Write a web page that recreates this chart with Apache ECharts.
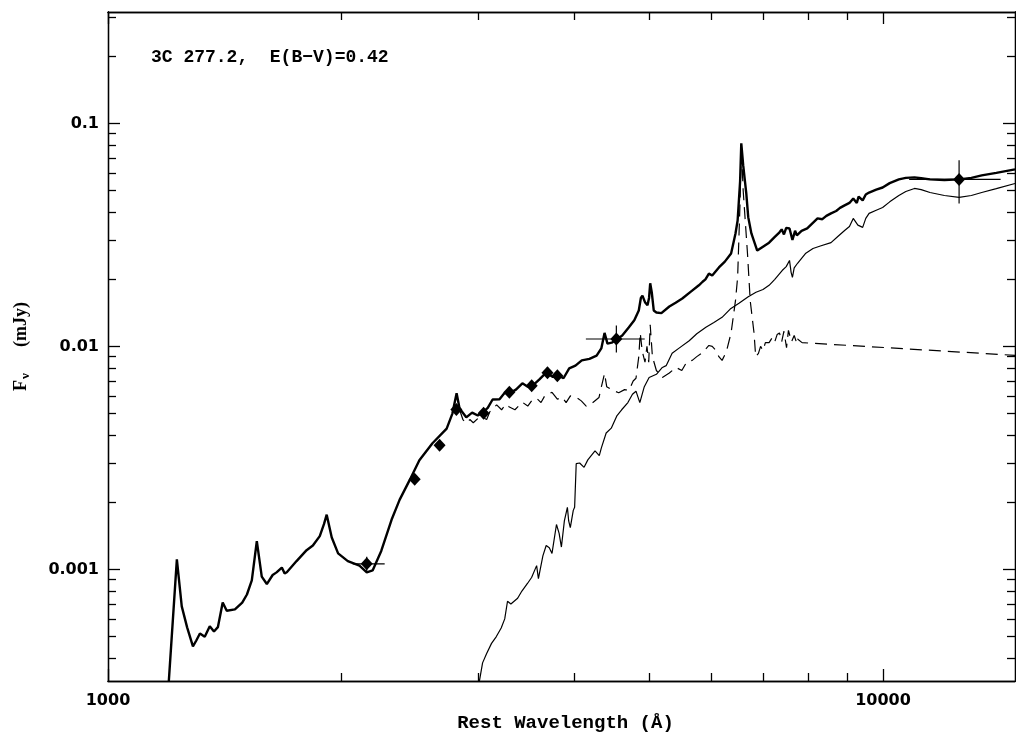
<!DOCTYPE html>
<html>
<head>
<meta charset="utf-8">
<script src="https://cdn.jsdelivr.net/npm/echarts@6/dist/echarts.min.js"></script>
<style>
  html, body { margin: 0; padding: 0; background: #fff; }
  #chart { width: 1016px; height: 738px; }
</style>
</head>
<body>
<div id="chart"></div>
<script>
// total model / observed spectrum (thick line)
var totalWave = [1198, 1227, 1245, 1265, 1287, 1300, 1314, 1333, 1353, 1370, 1386, 1406, 1423, 1458, 1490, 1511, 1533, 1556, 1579, 1603,
    1631, 1650, 1676, 1690, 1701, 1751, 1804, 1838, 1876, 1900, 1915, 1944, 1981, 2039, 2111, 2157, 2195, 2252, 2322, 2378,
    2451, 2522, 2622, 2735, 2782, 2817, 2842, 2899, 2950, 3000, 3043, 3090, 3135, 3200, 3250, 3295, 3360, 3425, 3480, 3531,
    3600, 3676, 3750, 3823, 3870, 3936, 4010, 4086, 4180, 4270, 4330, 4372, 4410, 4466, 4540, 4608, 4700, 4776, 4840, 4870,
    4893, 4930, 4967, 4990, 5007, 5030, 5060, 5100, 5176, 5300, 5400, 5508, 5650, 5786, 5850, 5900, 5961, 6020, 6141, 6250,
    6367, 6450, 6492, 6540, 6563, 6600, 6661, 6700, 6763, 6881, 7000, 7128, 7250, 7352, 7400, 7450, 7500, 7574, 7640, 7700,
    7741, 7850, 7983, 8100, 8232, 8350, 8450, 8568, 8700, 8800, 8921, 9050, 9153, 9250, 9300, 9413, 9500, 9594, 9800, 9988,
    10200, 10481, 10700, 10979, 11200, 11497, 12000, 12535, 13000, 13407, 14000, 14800];
var totalFlux = [0.000315, 0.00111, 0.000683, 0.00055, 0.000452, 0.00048, 0.000516, 0.000499, 0.000556, 0.000527, 0.000551, 0.000711, 0.000653, 0.000662, 0.00071, 0.000772, 0.000893, 0.00134, 0.000929, 0.00086,
    0.000944, 0.00097, 0.00102, 0.00096, 0.000971, 0.00109, 0.00122, 0.00128, 0.00141, 0.0016, 0.00176, 0.00139, 0.00118, 0.00109, 0.00104, 0.000971, 0.00099, 0.00121, 0.00167, 0.00205,
    0.00252, 0.00309, 0.00368, 0.00428, 0.005, 0.00616, 0.00527, 0.00481, 0.00505, 0.0049, 0.00505, 0.0053, 0.00578, 0.0058, 0.0062, 0.00616, 0.0064, 0.00683, 0.0066, 0.00667,
    0.0071, 0.00763, 0.0073, 0.00738, 0.0072, 0.00797, 0.0082, 0.00866, 0.0088, 0.00909, 0.0098, 0.0115, 0.0103, 0.0104, 0.0108, 0.0112, 0.0122, 0.0131, 0.0145, 0.0165,
    0.0169, 0.0158, 0.0153, 0.0165, 0.0192, 0.0175, 0.0145, 0.0142, 0.0141, 0.0151, 0.0157, 0.0164, 0.0176, 0.0188, 0.0195, 0.02, 0.0212, 0.0208, 0.0226, 0.024,
    0.0261, 0.032, 0.0367, 0.055, 0.0814, 0.065, 0.0486, 0.038, 0.0321, 0.0269, 0.028, 0.0292, 0.031, 0.0325, 0.0335, 0.0318, 0.034, 0.0338, 0.03, 0.033,
    0.0315, 0.033, 0.0338, 0.0355, 0.0375, 0.0372, 0.0385, 0.0395, 0.0405, 0.0418, 0.0429, 0.044, 0.0461, 0.044, 0.047, 0.0452, 0.048, 0.049, 0.0505, 0.0516,
    0.054, 0.0561, 0.057, 0.0573, 0.0568, 0.0561, 0.0558, 0.0561, 0.057, 0.0585, 0.06, 0.0622];

// host galaxy (thin line)
var hostWave = [3014, 3043, 3080, 3125, 3170, 3216, 3250, 3277, 3310, 3377, 3420, 3477, 3520, 3573, 3592, 3640, 3676, 3710, 3740, 3790,
    3820, 3846, 3880, 3915, 3930, 3949, 3984, 4000, 4019, 4060, 4114, 4160, 4202, 4250, 4304, 4330, 4393, 4460, 4537, 4600,
    4686, 4750, 4800, 4855, 4880, 4920, 4991, 5100, 5191, 5250, 5344, 5450, 5622, 5750, 5908, 6050, 6199, 6350, 6518, 6700,
    6856, 7000, 7128, 7250, 7410, 7500, 7574, 7610, 7640, 7680, 7757, 7950, 8121, 8300, 8568, 8750, 8921, 9050, 9153, 9280,
    9413, 9500, 9594, 9800, 9988, 10200, 10481, 10700, 10979, 11200, 11497, 12000, 12535, 13000, 13407, 14000, 14800];
var hostFlux = [0.000315, 0.000381, 0.00042, 0.000466, 0.0005, 0.000546, 0.0006, 0.00072, 0.0007, 0.000743, 0.0008, 0.000865, 0.00092, 0.00104, 0.00091, 0.00115, 0.00128, 0.00125, 0.00118, 0.00159,
    0.00145, 0.00126, 0.00165, 0.0019, 0.00165, 0.00154, 0.00184, 0.0019, 0.00298, 0.003, 0.00287, 0.0031, 0.00324, 0.0034, 0.00324, 0.0035, 0.00409, 0.0043, 0.0049, 0.0052,
    0.0056, 0.0061, 0.0063, 0.0056, 0.0057, 0.0066, 0.00726, 0.0075, 0.00805, 0.0082, 0.00931, 0.0098, 0.0106, 0.0114, 0.0122, 0.0128, 0.0135, 0.0147, 0.0156, 0.0167,
    0.0175, 0.018, 0.0188, 0.02, 0.0219, 0.0228, 0.0243, 0.0215, 0.0204, 0.0225, 0.0236, 0.0262, 0.0275, 0.0282, 0.0292, 0.0312, 0.0331, 0.0345, 0.0375, 0.035,
    0.0342, 0.0375, 0.0395, 0.0408, 0.042, 0.0445, 0.0475, 0.0495, 0.0511, 0.0505, 0.049, 0.0475, 0.0466, 0.0475, 0.049, 0.051, 0.0538];

// quasar component (dashed)
var qsoWave = [2842, 2870, 2899, 2930, 2960, 3000, 3043, 3080, 3110, 3173, 3220, 3260, 3295, 3350, 3425, 3480, 3520, 3573, 3620, 3660,
    3740, 3800, 3856, 3900, 3950, 4019, 4080, 4140, 4210, 4300, 4340, 4372, 4400, 4474, 4560, 4640, 4703, 4760, 4800, 4840,
    4861, 4890, 4930, 4959, 4985, 5007, 5040, 5100, 5191, 5300, 5406, 5500, 5580, 5673, 5750, 5850, 5961, 6020, 6087, 6140,
    6199, 6280, 6367, 6450, 6492, 6540, 6563, 6600, 6685, 6740, 6816, 6850, 6906, 6950, 7000, 7050, 7128, 7200, 7250, 7300,
    7352, 7400, 7450, 7507, 7550, 7574, 7620, 7680, 7741, 7757, 7862, 14800];
var qsoFlux = [0.0052, 0.0047, 0.00453, 0.0047, 0.00455, 0.00475, 0.00481, 0.0047, 0.0051, 0.00547, 0.0052, 0.0055, 0.00535, 0.0052, 0.00562, 0.0054, 0.0057, 0.00586, 0.0056, 0.006,
    0.00623, 0.0058, 0.00592, 0.0056, 0.006, 0.00592, 0.0057, 0.0054, 0.00556, 0.0059, 0.0068, 0.00757, 0.0066, 0.00636, 0.0062, 0.0064, 0.00636, 0.007, 0.0072, 0.009,
    0.0115, 0.0095, 0.0085, 0.01, 0.0085, 0.0125, 0.009, 0.0078, 0.00726, 0.0076, 0.00805, 0.0078, 0.0085, 0.00866, 0.009, 0.0094, 0.0101, 0.01, 0.00959, 0.009,
    0.00866, 0.0095, 0.0115, 0.016, 0.0204, 0.045, 0.0797, 0.05, 0.0261, 0.016, 0.0115, 0.009, 0.00931, 0.01, 0.0096, 0.0104, 0.0104, 0.011, 0.0105, 0.0113,
    0.0115, 0.0105, 0.0117, 0.00988, 0.0118, 0.012, 0.0105, 0.0112, 0.0103, 0.0108, 0.0104, 0.00912];

// photometry (diamonds)
var obsWave = [2157, 2487, 2678, 2815, 3052, 3295, 3521, 3690, 3800, 4528, 12535];
var obsFlux = [0.00106, 0.00254, 0.0036, 0.00522, 0.00502, 0.00623, 0.00667, 0.00763, 0.00738, 0.0108, 0.0561];

// error bars on three of the points
var errWave = [2157, 4528, 12535];
var errFlux = [0.00106, 0.0108, 0.0561];
var errWaveLo = [2069, 4136, 10806];
var errWaveHi = [2275, 4926, 14180];
var errFluxLo = [0.00097, 0.0094, 0.0438];
var errFluxHi = [0.00114, 0.0124, 0.0683];

// axis ticks
var xMin = 1000, xMax = 14800;
var yMin = 0.000316, yMax = 0.316;
var xMajor = [1000, 10000];
var xMinor = [2000, 3000, 4000, 5000, 6000, 7000, 8000, 9000];
var yMajor = [0.001, 0.01, 0.1];
var yMinor = [0.0004, 0.0005, 0.0006, 0.0007, 0.0008, 0.0009,
    0.002, 0.003, 0.004, 0.005, 0.006, 0.007, 0.008, 0.009,
    0.02, 0.03, 0.04, 0.05, 0.06, 0.07, 0.08, 0.09, 0.2, 0.3];

function zip(a, b) {
    var out = [];
    for (var i = 0; i < a.length; i++) {
        out.push([a[i], b[i]]);
    }
    return out;
}

var errData = [];
for (var i = 0; i < errWave.length; i++) {
    errData.push([errWave[i], errFlux[i], errWaveLo[i], errWaveHi[i], errFluxLo[i], errFluxHi[i]]);
}

var labelFont = { fontFamily: 'DejaVu Sans', fontWeight: 'bold', fontSize: 16, color: '#000' };

function xAxisOf(pos, ticks, len, withLabels) {
    return {
        type: 'log', gridIndex: 0, position: pos, min: xMin, max: xMax,
        axisLine: { show: true, onZero: false, lineStyle: { color: '#000', width: 1.3 } },
        axisTick: { show: true, inside: true, length: len, customValues: ticks, lineStyle: { color: '#000', width: 1.3 } },
        axisLabel: withLabels ? Object.assign({ show: true, margin: 12, customValues: xMajor, formatter: function (v) { return String(v); } }, labelFont) : { show: false },
        splitLine: { show: false }
    };
}

function yAxisOf(pos, ticks, len, withLabels) {
    return {
        type: 'log', gridIndex: 0, position: pos, min: yMin, max: yMax,
        axisLine: { show: true, onZero: false, lineStyle: { color: '#000', width: 1.3 } },
        axisTick: { show: true, inside: true, length: len, customValues: ticks, lineStyle: { color: '#000', width: 1.3 } },
        axisLabel: withLabels ? Object.assign({ show: true, margin: 9, customValues: yMajor, formatter: function (v) { return String(v); } }, labelFont) : { show: false },
        splitLine: { show: false }
    };
}

var xBottom = xAxisOf('bottom', xMajor, 12, true);
xBottom.name = 'Rest Wavelength (Å)';
xBottom.nameLocation = 'middle';
xBottom.nameGap = 31;
xBottom.nameTextStyle = { fontFamily: 'Liberation Mono', fontWeight: 'bold', fontSize: 19, color: '#000', padding: [0, 0, 0, 8] };

var yLeft = yAxisOf('left', yMajor, 12, true);
yLeft.name = '{f|F}{s|ν}{g|}{f|(mJy)}';
yLeft.nameLocation = 'middle';
yLeft.nameGap = 76;
yLeft.nameTextStyle = {
    rich: {
        f: { fontFamily: 'Liberation Serif', fontWeight: 'bold', fontSize: 18, color: '#000' },
        s: { fontFamily: 'Liberation Serif', fontWeight: 'bold', fontSize: 13, color: '#000', padding: [8, 0, 0, 1] },
        g: { width: 26 }
    }
};

var chart = echarts.init(document.getElementById('chart'), null, { renderer: 'canvas' });
chart.setOption({
    animation: false,
    backgroundColor: '#fff',
    title: {
        text: '3C 277.2,  E(B−V)=0.42',
        left: 146, top: 43,
        textStyle: { fontFamily: 'Liberation Mono', fontWeight: 'bold', fontSize: 18, color: '#000' }
    },
    grid: { left: 108, right: 1, top: 12, bottom: 57, outerBoundsMode: 'none', containLabel: false },
    xAxis: [
        xBottom,
        xAxisOf('bottom', xMinor, 8, false),
        xAxisOf('top', xMajor, 12, false),
        xAxisOf('top', xMinor, 8, false)
    ],
    yAxis: [
        yLeft,
        yAxisOf('left', yMinor, 8, false),
        yAxisOf('right', yMajor, 12, false),
        yAxisOf('right', yMinor, 8, false)
    ],
    series: [
        {
            name: 'host', type: 'line', data: zip(hostWave, hostFlux),
            showSymbol: false, symbol: 'none', lineStyle: { color: '#000', width: 1.2 }, z: 2
        },
        {
            name: 'qso', type: 'line', data: zip(qsoWave, qsoFlux),
            showSymbol: false, symbol: 'none', lineStyle: { color: '#000', width: 1.2, type: [12, 7] }, z: 2
        },
        {
            name: 'total', type: 'line', data: zip(totalWave, totalFlux),
            showSymbol: false, symbol: 'none', lineStyle: { color: '#000', width: 2.4 }, z: 3
        },
        {
            name: 'errors', type: 'custom', data: errData,
            encode: { x: [0, 2, 3], y: [1, 4, 5] },
            renderItem: function (params, api) {
                var lo = api.coord([api.value(2), api.value(1)]);
                var hi = api.coord([api.value(3), api.value(1)]);
                var bot = api.coord([api.value(0), api.value(4)]);
                var top = api.coord([api.value(0), api.value(5)]);
                return {
                    type: 'group',
                    children: [
                        { type: 'line', shape: { x1: lo[0], y1: lo[1], x2: hi[0], y2: hi[1] }, style: { stroke: '#000', lineWidth: 1.2 } },
                        { type: 'line', shape: { x1: bot[0], y1: bot[1], x2: top[0], y2: top[1] }, style: { stroke: '#000', lineWidth: 1.2 } }
                    ]
                };
            },
            z: 4
        },
        {
            name: 'photometry', type: 'scatter', data: zip(obsWave, obsFlux),
            symbol: 'diamond', symbolSize: [12, 13], itemStyle: { color: '#000', opacity: 1 }, z: 5
        }
    ]
});
</script>
</body>
</html>
